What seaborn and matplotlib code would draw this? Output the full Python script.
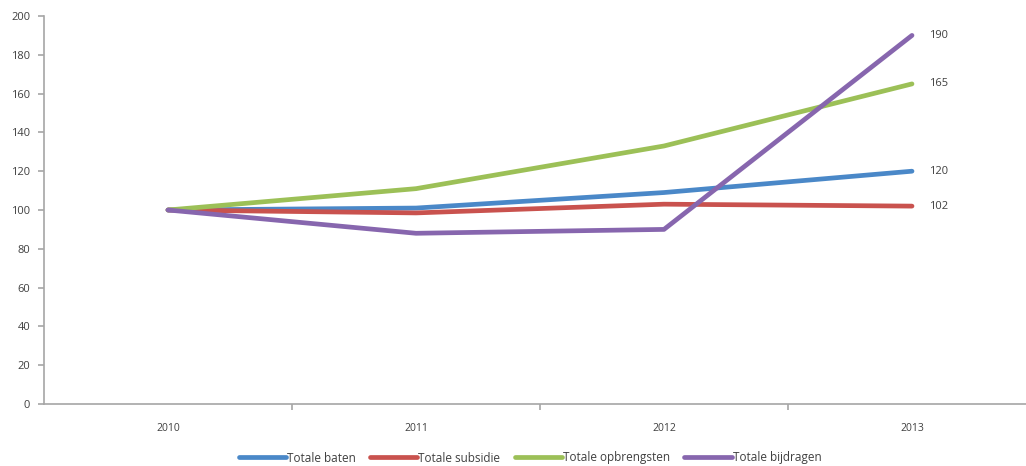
import matplotlib
matplotlib.use("Agg")
import matplotlib.pyplot as plt
import seaborn as sns
import pandas as pd
from matplotlib.ticker import FixedLocator
from matplotlib.lines import Line2D

years = ["2010", "2011", "2012", "2013"]
series_names = ["Totale baten", "Totale subsidie", "Totale opbrengsten", "Totale bijdragen"]
baten = [100, 101, 109, 120]
subsidie = [100, 98.5, 103, 102]
opbrengsten = [100, 111, 133, 165]
bijdragen = [100, 88, 90, 190]
end_labels = ["120", "102", "165", "190"]
colors = ["#4A88C8", "#C9524E", "#9CC057", "#8766AE"]

rows = []
for name, vals in zip(series_names, [baten, subsidie, opbrengsten, bijdragen]):
    for y, v in zip(years, vals):
        rows.append({"Jaar": y, "Waarde": v, "Reeks": name})
df = pd.DataFrame(rows)

sns.set_style("white")
plt.rcParams["font.family"] = ["Open Sans", "DejaVu Sans"]

fig = plt.figure(figsize=(10.26, 4.66), dpi=100)
ax = fig.add_axes([44/1026, 62/466, 992/1026, 388/466])

sns.lineplot(data=df, x="Jaar", y="Waarde", hue="Reeks", hue_order=series_names,
             palette=colors, linewidth=3.4, ax=ax, legend=False, sort=False)

ax.set_xlim(-0.5, 3.5)
ax.set_ylim(0, 200)
ax.set_yticks(range(0, 201, 20))
ax.set_xlabel("")
ax.set_ylabel("")
for s in ["top", "right"]:
    ax.spines[s].set_visible(False)
for s in ["left", "bottom"]:
    ax.spines[s].set_color("#A6A6A6")
    ax.spines[s].set_linewidth(1.2)

ax.set_xticks(range(4))
ax.set_xticklabels(years)
ax.tick_params(axis="x", which="major", length=0, pad=14, labelsize=7.5, labelcolor="#404040")
ax.xaxis.set_minor_locator(FixedLocator([0.5, 1.5, 2.5]))
ax.tick_params(axis="x", which="minor", length=4, color="#A6A6A6", width=1.2, direction="out", bottom=True)
ax.tick_params(axis="y", length=4, color="#A6A6A6", width=1.2, direction="out", left=True,
               labelsize=8, labelcolor="#404040", pad=6)

all_vals = [baten, subsidie, opbrengsten, bijdragen]
for vals, lab in zip(all_vals, end_labels):
    ax.annotate(lab, xy=(3, vals[-1]), xytext=(12, 0), textcoords="offset points",
                va="center", ha="left", fontsize=8, color="#404040")

handles = [Line2D([], [], color=c, linewidth=3.4) for c in colors]
fig.legend(handles, series_names, loc="center", ncol=4,
           bbox_to_anchor=(530/1026, 1 - 458/466), frameon=False,
           fontsize=8.5, handlelength=4.0, handletextpad=0.1, columnspacing=1.2,
           labelcolor="#404040")

fig.savefig("out.png", dpi=100)
